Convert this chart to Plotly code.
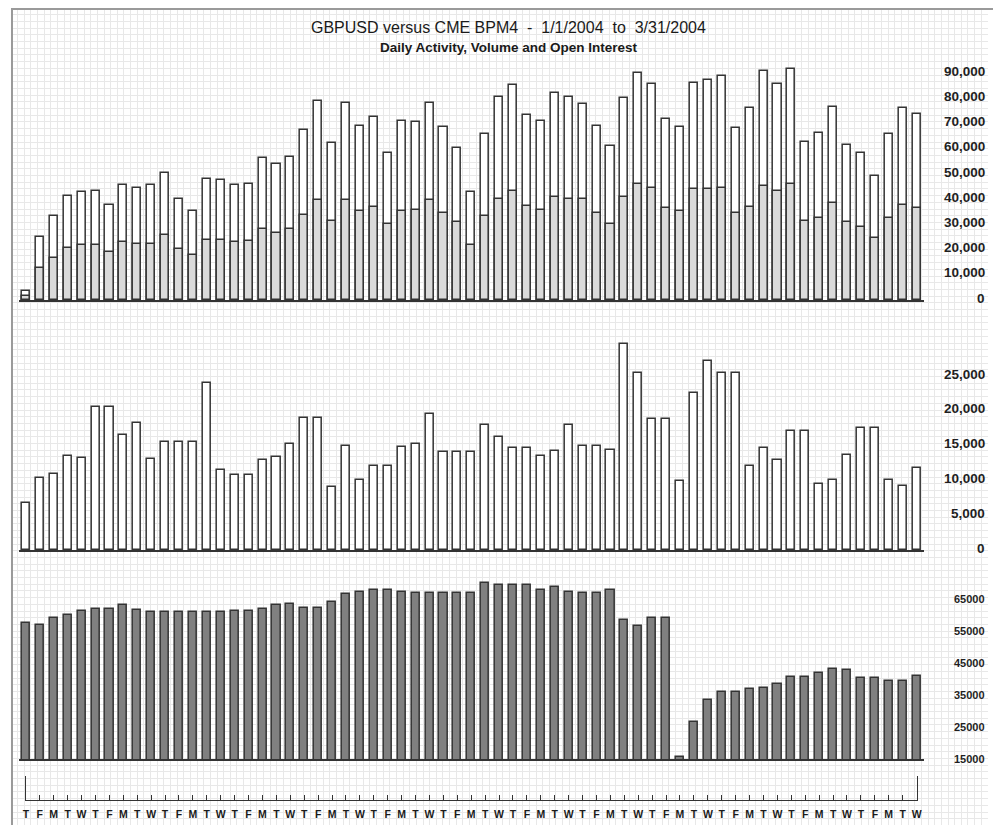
import plotly.graph_objects as go

# ---------------- data ----------------
days = ["T", "F",
        "M", "T", "W", "T", "F", "M", "T", "W", "T", "F", "M", "T", "W", "T", "F", "M", "T", "W", "T", "F",
        "M", "T", "W", "T", "F", "M", "T", "W", "T", "F", "M", "T", "W", "T", "F", "M", "T", "W", "T", "F",
        "M", "T", "W", "T", "F", "M", "T", "W", "T", "F", "M", "T", "W", "T", "F", "M", "T", "W", "T", "F",
        "M", "T", "W"]

activity_total = [3500, 24900, 33300, 41400, 42700, 43300, 37700, 45500, 44600, 45500,
                  50400, 40100, 35200, 48000, 47600, 45500, 45900, 56200, 54000, 56900,
                  67500, 79000, 62200, 78000, 69000, 72500, 58500, 71000, 70500, 78000,
                  68500, 60200, 42700, 65900, 80700, 85400, 73400, 71000, 82000, 80400,
                  77800, 69000, 61100, 80000, 90200, 85700, 71700, 68800, 86000, 87200,
                  88900, 68400, 76100, 90900, 85800, 91500, 62800, 66100, 76500, 61500,
                  58200, 49300, 66000, 76100, 73900]

activity_part = [1500, 12800, 16800, 20500, 21800, 21800, 19200, 22900, 22400, 22400,
                 25700, 20400, 17700, 23800, 23800, 22900, 23500, 28200, 26500, 28200,
                 33700, 39700, 31500, 39700, 35300, 37000, 30000, 35400, 35700, 39700,
                 34700, 30800, 21800, 33300, 40200, 43300, 37300, 35700, 41000, 40100,
                 40000, 34700, 30000, 41000, 46200, 44600, 36400, 35300, 44000, 44000,
                 44600, 34700, 37000, 45400, 43300, 46200, 31500, 32400, 38600, 30800,
                 29100, 24700, 32700, 37700, 36400]

volume = [6800, 10400, 10900, 13500, 13200, 20600, 20600, 16500, 18200, 13100,
          15500, 15500, 15500, 24000, 11500, 10800, 10800, 12900, 13400, 15300,
          19000, 19000, 9000, 15000, 10000, 12100, 12100, 14800, 15300, 19600,
          14100, 14100, 14100, 18000, 16200, 14600, 14600, 13500, 14200, 18000,
          15000, 15000, 14300, 29600, 25500, 18800, 18800, 9900, 22500, 27100,
          25500, 25500, 12100, 14600, 12900, 17100, 17100, 9500, 10100, 13700,
          17600, 17600, 10100, 9200, 11800]

open_interest = [57600, 57000, 59000, 59900, 61100, 62000, 62000, 63000, 61600, 60800,
                 60800, 60800, 60800, 60800, 60800, 61200, 61200, 62000, 63000, 63400,
                 62200, 62200, 64100, 66500, 67200, 67900, 67900, 67100, 66900, 66900,
                 66900, 66900, 66900, 70100, 69400, 69400, 69400, 67900, 68750, 67200,
                 67000, 67000, 67900, 58400, 56600, 59000, 59000, 15500, 26700, 33500,
                 35900, 35900, 36900, 37200, 38300, 40700, 40700, 42000, 43000, 42800,
                 40300, 40300, 39300, 39300, 40800]

top_tick_vals = [0, 10000, 20000, 30000, 40000, 50000, 60000, 70000, 80000, 90000]
top_tick_text = ["0", "10,000", "20,000", "30,000", "40,000", "50,000", "60,000", "70,000", "80,000", "90,000"]
mid_tick_vals = [0, 5000, 10000, 15000, 20000, 25000]
mid_tick_text = ["0", "5,000", "10,000", "15,000", "20,000", "25,000"]
oi_tick_vals = [15000, 25000, 35000, 45000, 55000, 65000]
oi_tick_text = ["15000", "25000", "35000", "45000", "55000", "65000"]

title_text = "GBPUSD versus CME BPM4\u00a0 -\u00a0 1/1/2004\u00a0 to\u00a0 3/31/2004"
subtitle_text = "Daily Activity, Volume and Open Interest"

# ---------------- layout helpers ----------------
W, H, OFF = 985, 817, 8


def fx(px):
    return (px - OFF) / W


def fy(py):
    return 1 - (py - OFF) / H


n = len(days)
idx = list(range(n))
SANS = "Liberation Sans, Arial, sans-serif"
EDGE = "#333333"
BW = 0.58
LABEL_X = 992

fig = go.Figure()

# background graph-paper grid subplot (x / y)
fig.add_trace(go.Scatter(x=[], y=[], xaxis="x", yaxis="y", showlegend=False, hoverinfo="skip"))

# top panel: activity
fig.add_trace(go.Bar(x=idx, y=activity_total, xaxis="x2", yaxis="y2", width=BW,
                     marker=dict(color="white", line=dict(color=EDGE, width=1.5)),
                     name="Total activity", showlegend=False))
fig.add_trace(go.Bar(x=idx, y=activity_part, xaxis="x2", yaxis="y2", width=BW,
                     marker=dict(color="#dadada", line=dict(color=EDGE, width=1.5)),
                     name="Activity part", showlegend=False))
# middle panel: volume
fig.add_trace(go.Bar(x=idx, y=volume, xaxis="x3", yaxis="y3", width=BW,
                     marker=dict(color="white", line=dict(color=EDGE, width=1.5)),
                     name="Volume", showlegend=False))
# bottom panel: open interest
fig.add_trace(go.Bar(x=idx, y=open_interest, xaxis="x4", yaxis="y4", width=BW,
                     marker=dict(color="#808080", line=dict(color=EDGE, width=1.5)),
                     name="Open interest", showlegend=False))
# day axis
fig.add_trace(go.Scatter(x=[], y=[], xaxis="x5", yaxis="y5", showlegend=False, hoverinfo="skip"))

panel_x = dict(domain=[fx(16), fx(928)], range=[-0.5, n - 0.5], showgrid=False, zeroline=False,
               showticklabels=False, ticks="", showline=True, linecolor=EDGE, linewidth=1.5,
               fixedrange=True)
panel_y = dict(showgrid=False, zeroline=False, showticklabels=False, ticks="", showline=False,
               fixedrange=True)

fig.update_layout(
    width=W, height=H,
    margin=dict(l=0, r=0, t=0, b=0),
    paper_bgcolor="white",
    plot_bgcolor="rgba(0,0,0,0)",
    barmode="overlay",
    bargap=0,
    showlegend=False,
    xaxis=dict(domain=[0, 1], range=[0, W], dtick=6.7, tick0=0, showgrid=True, gridcolor="#e8e8e8",
               gridwidth=1, zeroline=False, showticklabels=False, ticks="", fixedrange=True, anchor="y"),
    yaxis=dict(domain=[0, 1], range=[H, 0], dtick=6.7, tick0=0, showgrid=True, gridcolor="#e8e8e8",
               gridwidth=1, zeroline=False, showticklabels=False, ticks="", fixedrange=True, anchor="x"),
    xaxis2=dict(panel_x, anchor="y2"),
    yaxis2=dict(panel_y, anchor="x2", domain=[fy(300), fy(48)], range=[0, (300 - 48) / 2.52 * 1000]),
    xaxis3=dict(panel_x, anchor="y3"),
    yaxis3=dict(panel_y, anchor="x3", domain=[fy(550), fy(341)], range=[0, (550 - 341) / 6.96 * 1000]),
    xaxis4=dict(panel_x, anchor="y4"),
    yaxis4=dict(panel_y, anchor="x4", domain=[fy(759), fy(578)],
                range=[15000, 15000 + (759 - 578) / 3.2 * 1000]),
    xaxis5=dict(domain=[fx(23), fx(921)], range=[0, n - 1], anchor="y5", tickmode="array",
                tickvals=idx, ticktext=days, ticks="inside", ticklen=5, tickwidth=1, tickcolor=EDGE,
                showline=True, linecolor=EDGE, linewidth=1.3, showgrid=False, zeroline=False,
                tickfont=dict(family=SANS, size=10.5, color="#1a1a1a", weight="bold"),
                ticklabelstandoff=4, fixedrange=True),
    yaxis5=dict(domain=[fy(800), fy(776)], range=[0, 1], anchor="x5", showline=True, mirror=True,
                linecolor=EDGE, linewidth=1.3, showgrid=False, zeroline=False, showticklabels=False,
                ticks="", fixedrange=True),
)

annotations = []
for v, t in zip(top_tick_vals, top_tick_text):
    annotations.append(dict(x=fx(LABEL_X), xref="paper", xanchor="right", y=v, yref="y2", yshift=2,
                            text=t, showarrow=False,
                            font=dict(family=SANS, size=13.5, color="#1f1f1f", weight="bold")))
for v, t in zip(mid_tick_vals, mid_tick_text):
    annotations.append(dict(x=fx(LABEL_X), xref="paper", xanchor="right", y=v, yref="y3", yshift=2,
                            text=t, showarrow=False,
                            font=dict(family=SANS, size=13.5, color="#1f1f1f", weight="bold")))
for v, t in zip(oi_tick_vals, oi_tick_text):
    annotations.append(dict(x=fx(LABEL_X), xref="paper", xanchor="right", y=v, yref="y4",
                            text=t, showarrow=False,
                            font=dict(family=SANS, size=11, color="#1f1f1f", weight="bold")))
annotations.append(dict(x=fx(510), y=fy(27), xref="paper", yref="paper", xanchor="center", yanchor="middle",
                        text=title_text, showarrow=False,
                        font=dict(family=SANS, size=16, color="#1a1a1a")))
annotations.append(dict(x=fx(510), y=fy(48), xref="paper", yref="paper", xanchor="center", yanchor="middle",
                        text=subtitle_text, showarrow=False,
                        font=dict(family=SANS, size=13.5, color="#1a1a1a", weight="bold")))
fig.update_layout(annotations=annotations)

# outer frame of the picture
fig.add_shape(type="rect", xref="paper", yref="paper", x0=fx(9), x1=1.02, y0=fy(829), y1=fy(9),
              line=dict(color="#9a9a9a", width=2), fillcolor="rgba(0,0,0,0)", layer="above")

fig.write_html("out.html")
